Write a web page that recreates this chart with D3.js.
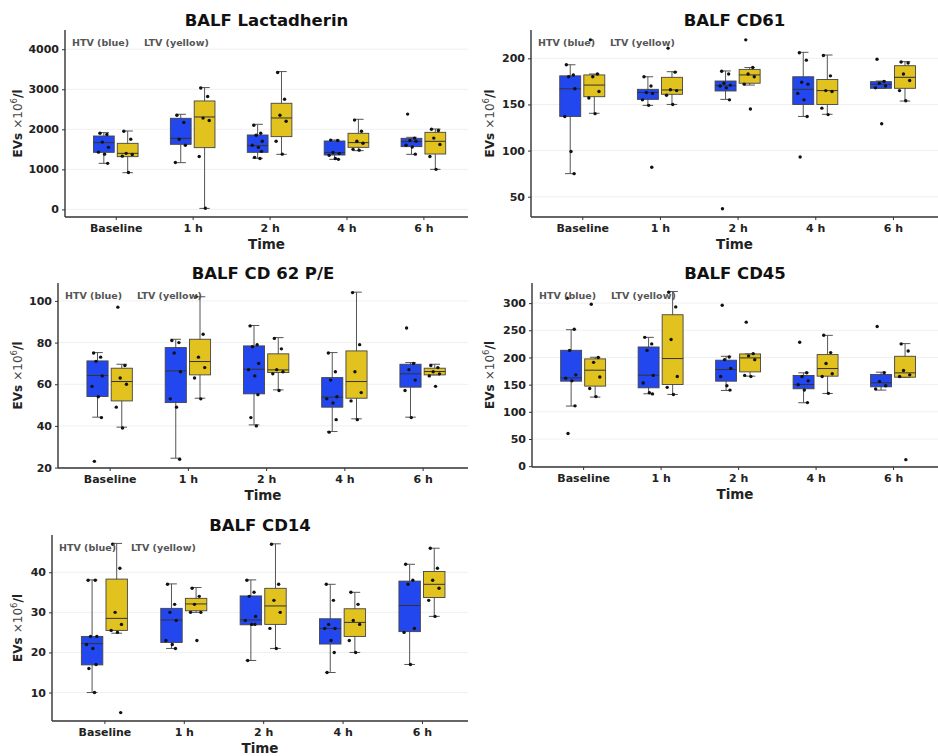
<!DOCTYPE html>
<html>
<head>
<meta charset="utf-8">
<script src="https://cdn.jsdelivr.net/npm/d3@7"></script>
<style>
  body { margin: 0; background: #fff; }
  svg { font-family: "DejaVu Sans", sans-serif; }
</style>
</head>
<body>
<svg id="chart" width="938" height="756"></svg>
<script>

var times = ["Baseline", "1 h", "2 h", "4 h", "6 h"];

// box stats per time: [whisker low, q1, median, q3, whisker high]
var lactHTV = [[1150,1425,1667,1833,1917],[1167,1625,1775,2275,2375],[1275,1425,1592,1858,2125],[1250,1358,1417,1708,1733],[1375,1567,1692,1775,1800]];
var lactLTV = [[917,1317,1400,1650,1958],[25,1542,2308,2708,3042],[1375,1817,2283,2650,3442],[1467,1550,1667,1900,2250],[1000,1383,1700,1925,2008]];
var lactHTVpts = [[1900,1870,1680,1550,1430,1380,1150],[2350,2170,1750,1600,1170],[2100,1900,1850,1700,1600,1550,1450,1300,1270],[1730,1720,1420,1400,1350,1270,1250],[2380,1780,1720,1700,1600,1560,1380]];
var lactLTVpts = [[1950,1750,1400,1370,1330,920],[3030,2820,2280,2220,1320,30],[3420,2750,2350,2200,1700,1380],[2230,1950,1700,1650,1500,1480],[2000,1970,1780,1620,1320,1000]];

var cd61HTV = [[75,137,167,181,193],[149,155.5,163,166.4,180],[155.5,164.6,170.4,175.4,186.3],[137,150,166.4,180,206.5],[167.5,167.5,171.8,174.7,175.4]];
var cd61LTV = [[140.4,158.4,171,182,183],[150,161,165.7,179.4,185.5],[171,173,182,188,190],[139.3,150,165,177,203.6],[153.7,167.5,179.4,192,196.4]];
var cd61HTVpts = [[193,182,180,167,137,99,75],[180,170,163,162,155,149,82],[186,183,173,171,170,168,155,37],[206,198,174,172,162,155,137,93],[199,175,173,170,168,129]];
var cd61LTVpts = [[220,183,180,164,157,140],[211,185,166,165,160,150],[220,190,183,180,172,145],[203,181,165,164,146,139],[196,195,183,176,165,154]];

var cd62HTV = [[44.2,54.1,64.2,71.2,75.2],[24.5,51.2,66.4,77.6,81.6],[40.5,55.4,67.2,78.4,88.2],[37.3,49,53.8,63.2,75.2],[44.2,58.6,65,69.6,70.4]];
var cd62LTV = [[39.4,52,61.3,67.7,69.6],[53.3,64.5,70.9,81.6,102],[57.3,65.6,66.9,74.6,82.4],[43.4,53.3,61.3,76,104.2],[64.5,64.5,66.1,67.7,69.6]];
var cd62HTVpts = [[75,73,71,64,59,54,44,23],[81,80,75,66,53,49,24],[88,79,78,70,67,64,55,44,40],[75,66,62,54,53,51,43,37],[87,70,67,62,57,44]];
var cd62LTVpts = [[97,69,63,60,49,39],[102,84,73,68,63,53],[82,77,67,66,65,57],[104,79,66,56,52,43],[69,68,66,65,64,59]];

var cd45HTV = [[110.6,156.4,162.5,213.2,251.1],[133.2,144.2,167.4,219.3,237],[139.3,156.4,177.8,195,202.2],[116.7,142.4,150.3,166.8,171.7],[140,146,153.4,168.6,172.9]];
var cd45LTV = [[127.1,147.3,176.6,197.4,200.4],[132,150.3,198,278.6,321.4],[165.6,173.5,199.2,206.5,206.5],[133.8,165.6,179.6,205.3,240.7],[163.7,163.7,171.7,202.2,225.5]];
var cd45HTVpts = [[309,252,213,168,162,157,111,60],[237,225,213,167,153,135,133],[296,201,196,180,165,148,140],[228,172,165,157,150,140,117],[257,172,156,148,142]];
var cd45LTVpts = [[298,200,191,164,143,128],[320,293,233,165,145,132],[265,207,203,196,167,165],[241,209,189,170,165,134],[225,212,176,168,165,12]];

var cd14HTV = [[10,16.9,22.2,24,38.1],[21,22.5,28.1,31,37.1],[18,26.9,28.1,34.1,38.1],[15,22.1,26,28.4,37],[17,25.2,31.7,37.8,42]];
var cd14LTV = [[24.8,25.5,28.5,38.3,47.2],[30,30.4,32.1,33.5,36.2],[21,27,31.6,36,47.1],[20,24,27.5,30.9,35],[29,33.7,37,40.2,46]];
var cd14HTVpts = [[38,38,24,24,22,21,17,16,10],[37,32,30,28,23,22,21],[38,35,34,29,28,27,27,18],[37,33,27,26,26,23,20,15],[42,38,37,26,25,17]];
var cd14LTVpts = [[47,41,30,27,25.5,25,5],[36,34,32,30,30,23],[47,37,33,30,26,21],[35,32,28,27,23,20],[46,41,38,36,33,29]];

var lactTicks = [0,1000,2000,3000,4000];
var cd61Ticks = [50,100,150,200];
var cd62Ticks = [20,40,60,80,100];
var cd45Ticks = [0,50,100,150,200,250,300];
var cd14Ticks = [10,20,30,40];

var blue = "#2347ef";
var yellow = "#e1c21f";
var jitter = [-0.05, 0.04, -0.02, 0.06, -0.07, 0.01, 0.05, -0.04, 0.03];

var panels = [
  {title:"BALF Lactadherin", htv:lactHTV, ltv:lactLTV, hp:lactHTVpts, lp:lactLTVpts, ticks:lactTicks, ydom:[-190,4480], l:65, t:30, r:468, b:217, lx:18},
  {title:"BALF CD61", htv:cd61HTV, ltv:cd61LTV, hp:cd61HTVpts, lp:cd61LTVpts, ticks:cd61Ticks, ydom:[28,230.7], l:531, t:30, r:938, b:217, lx:490},
  {title:"BALF CD 62 P/E", htv:cd62HTV, ltv:cd62LTV, hp:cd62HTVpts, lp:cd62LTVpts, ticks:cd62Ticks, ydom:[19.8,108.6], l:58, t:283, r:468, b:468, lx:18},
  {title:"BALF CD45", htv:cd45HTV, ltv:cd45LTV, hp:cd45HTVpts, lp:cd45LTVpts, ticks:cd45Ticks, ydom:[-1.5,337], l:532, t:283, r:938, b:467, lx:490},
  {title:"BALF CD14", htv:cd14HTV, ltv:cd14LTV, hp:cd14HTVpts, lp:cd14LTVpts, ticks:cd14Ticks, ydom:[2.9,49.3], l:52, t:535, r:468, b:721, lx:18}
];

var svg = d3.select("#chart");

panels.forEach(function(p){
  drawPanel(p);
});

function drawPanel(p){

  var x = d3.scaleLinear().domain([0.34, 5.58]).range([p.l, p.r]);
  var y = d3.scaleLinear().domain(p.ydom).range([p.b, p.t]);
  var step = x(2) - x(1);
  var g = svg.append("g");

  // grid
  g.selectAll("line.grid").data(p.ticks).join("line")
    .attr("x1", p.l).attr("x2", p.r)
    .attr("y1", d => y(d)).attr("y2", d => y(d))
    .attr("stroke", "#ececec").attr("stroke-width", 0.8);

  var groups = [
    {stats:p.htv, pts:p.hp, fill:blue, off:-0.155},
    {stats:p.ltv, pts:p.lp, fill:yellow, off:0.155}
  ];

  var bw = 0.27;
  groups.forEach(function(grp){
    grp.stats.forEach(function(s, i){
      var cx = x(i + 1 + grp.off);
      var half = bw * step / 2;
      var cap = half * 0.5;
      // whiskers
      g.append("line").attr("x1", cx).attr("x2", cx).attr("y1", y(s[0])).attr("y2", y(s[4]))
        .attr("stroke", "#555").attr("stroke-width", 1);
      g.append("line").attr("x1", cx - cap).attr("x2", cx + cap).attr("y1", y(s[0])).attr("y2", y(s[0]))
        .attr("stroke", "#555").attr("stroke-width", 1);
      g.append("line").attr("x1", cx - cap).attr("x2", cx + cap).attr("y1", y(s[4])).attr("y2", y(s[4]))
        .attr("stroke", "#555").attr("stroke-width", 1);
      // box
      g.append("rect").attr("x", cx - half).attr("width", 2 * half)
        .attr("y", y(s[3])).attr("height", Math.max(1, y(s[1]) - y(s[3])))
        .attr("fill", grp.fill).attr("stroke", "#444").attr("stroke-width", 0.9);
      g.append("line").attr("x1", cx - half).attr("x2", cx + half).attr("y1", y(s[2])).attr("y2", y(s[2]))
        .attr("stroke", "#333").attr("stroke-width", 1);
    });
    grp.pts.forEach(function(vals, i){
      g.selectAll(null).data(vals).join("circle")
        .attr("cx", (d, j) => x(i + 1 + grp.off + jitter[j % jitter.length]))
        .attr("cy", d => y(d))
        .attr("r", 1.7)
        .attr("fill", "#111");
    });
  });

  // axes
  var yAxis = g.append("g").attr("transform", "translate(" + p.l + ",0)")
    .call(d3.axisLeft(y).tickValues(p.ticks).tickFormat(d3.format("d")).tickSize(3).tickPadding(3));
  var xAxis = g.append("g").attr("transform", "translate(0," + p.b + ")")
    .call(d3.axisBottom(x).tickValues([1,2,3,4,5]).tickFormat(d => times[d - 1]).tickSize(3).tickPadding(4));
  [yAxis, xAxis].forEach(function(a){
    a.select(".domain").attr("stroke", "#333").attr("stroke-width", 1.4)
      .attr("d", a === yAxis ? "M0," + p.t + "V" + p.b : "M" + p.l + ",0H" + p.r);
    a.selectAll(".tick line").attr("stroke", "#333");
    a.selectAll(".tick text").attr("fill", "#222").style("font-size", "11px").style("font-weight", "bold")
      .style("font-family", "DejaVu Sans");
  });

  // title
  g.append("text").attr("x", (p.l + p.r) / 2).attr("y", p.t - 4.5)
    .attr("text-anchor", "middle").style("font-size", "16.5px").style("font-weight", "bold")
    .attr("fill", "#111").text(p.title);

  // x label
  g.append("text").attr("x", (p.l + p.r) / 2).attr("y", p.b + 32)
    .attr("text-anchor", "middle").style("font-size", "13.5px").style("font-weight", "bold")
    .attr("fill", "#222").text("Time");

  // y label
  var yl = g.append("text")
    .attr("transform", "translate(" + (p.lx + 4) + "," + ((p.t + p.b) / 2) + ") rotate(-90)")
    .attr("text-anchor", "middle").style("font-size", "12px").attr("fill", "#222");
  yl.append("tspan").style("font-weight", "bold").text("EVs ");
  yl.append("tspan").attr("fill", "#444").text("×10");
  yl.append("tspan").attr("fill", "#444").attr("dy", -5).style("font-size", "8.5px").text("6");
  yl.append("tspan").attr("dy", 5).style("font-weight", "bold").text("/l");

  // annotation
  g.append("text").attr("x", p.l + 7).attr("y", p.t + 16)
    .style("font-size", "9.5px").style("font-weight", "bold").attr("fill", "#555").text("HTV (blue)");
  g.append("text").attr("x", p.l + 79).attr("y", p.t + 16)
    .style("font-size", "9.5px").style("font-weight", "bold").attr("fill", "#555").text("LTV (yellow)");
}

</script>
</body>
</html>
